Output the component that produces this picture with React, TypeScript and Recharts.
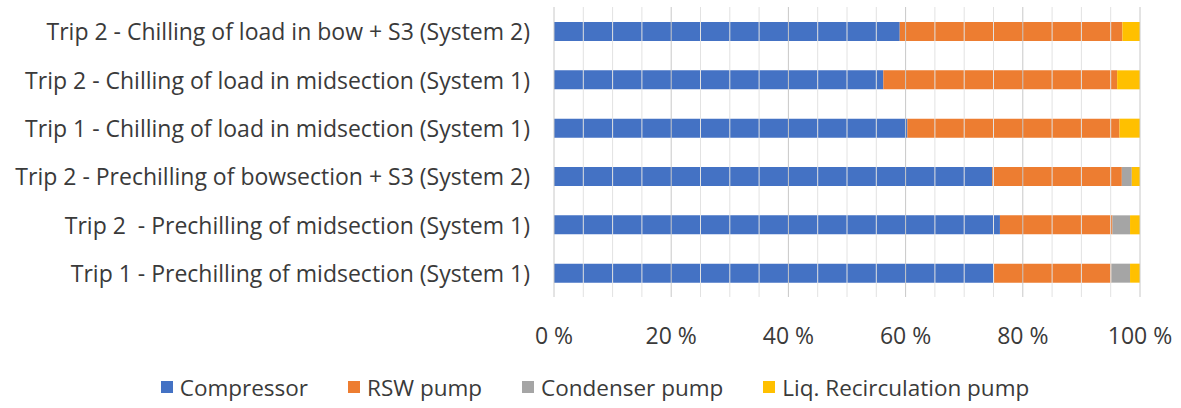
import React from 'react';
import { BarChart, Bar, XAxis, YAxis, Legend, ReferenceLine } from 'recharts';

const categories = [
  'Trip 2 - Chilling of load in bow + S3 (System 2)',
  'Trip 2 - Chilling of load in midsection (System 1)',
  'Trip 1 - Chilling of load in midsection (System 1)',
  'Trip 2 - Prechilling of bowsection + S3 (System 2)',
  'Trip 2  - Prechilling of midsection (System 1)',
  'Trip 1 - Prechilling of midsection (System 1)',
];
const compressor = [59.0, 56.2, 60.3, 74.8, 76.1, 75.1];
const rswPump = [38.0, 39.9, 36.2, 22.1, 19.2, 20.0];
const condenserPump = [0, 0, 0, 1.7, 3.0, 3.2];
const liqRecirculationPump = [3.0, 3.9, 3.5, 1.4, 1.7, 1.7];
const xTicks = [0, 20, 40, 60, 80, 100];
const minorGrid = [5, 10, 15, 25, 30, 35, 45, 50, 55, 65, 70, 75, 85, 90, 95];
const seriesNames = ['Compressor', 'RSW pump', 'Condenser pump', 'Liq. Recirculation pump'];

const data = categories.map((name, i) => ({
  name,
  compressor: compressor[i],
  rsw: rswPump[i],
  condenser: condenserPump[i],
  liq: liqRecirculationPump[i],
}));

const FONT = '"Open Sans", sans-serif';
const TEXT = '#3a3a3a';

const CategoryTick = (props: any) => {
  const { x, y, payload } = props;
  return (
    <text
      x={x}
      y={y}
      textAnchor="end"
      dominantBaseline="central"
      fill={TEXT}
      fontSize={23}
      fontFamily={FONT}
      style={{ whiteSpace: 'pre' }}
    >
      {payload.value}
    </text>
  );
};

const LegendContent = (props: any) => {
  const items = [...(props.payload || [])].sort(
    (a: any, b: any) => seriesNames.indexOf(a.value) - seriesNames.indexOf(b.value)
  );
  return (
    <div
      style={{
        display: 'flex',
        justifyContent: 'center',
        alignItems: 'center',
        gap: 40,
        height: 30,
        fontFamily: FONT,
        fontSize: 22.5,
        color: TEXT,
        paddingLeft: 50,
      }}
    >
      {items.map((it: any) => (
        <div key={it.value} style={{ display: 'flex', alignItems: 'center' }}>
          <span style={{ display: 'inline-block', width: 12, height: 12, background: it.color, marginRight: 7 }} />
          <span>{it.value}</span>
        </div>
      ))}
    </div>
  );
};

export default function App() {
  return (
    <div style={{ position: 'absolute', left: 0, top: 0 }}>
      <BarChart
        width={1181}
        height={408}
        data={data}
        layout="vertical"
        margin={{ top: 7, right: 41, bottom: 6, left: 0 }}
        barSize={19}
      >
        {minorGrid.map((v) => (
          <ReferenceLine key={'m' + v} x={v} stroke="#e2e2e2" strokeWidth={1} />
        ))}
        {xTicks.map((v) => (
          <ReferenceLine key={'M' + v} x={v} stroke="#c8c8c8" strokeWidth={1} />
        ))}
        <XAxis
          type="number"
          domain={[0, 100]}
          ticks={xTicks}
          tickFormatter={(v: number) => `${v} %`}
          axisLine={false}
          tickLine={false}
          tickSize={0}
          tickMargin={31}
          height={75}
          tick={{ fill: TEXT, fontSize: 23, fontFamily: FONT }}
        />
        <YAxis
          type="category"
          dataKey="name"
          width={554}
          axisLine={false}
          tickLine={false}
          tickSize={0}
          tickMargin={24}
          tick={<CategoryTick />}
        />
        <Legend verticalAlign="bottom" align="center" height={30} content={<LegendContent />} />
        <Bar dataKey="compressor" name="Compressor" stackId="a" fill="#4472C4" isAnimationActive={false} />
        <Bar dataKey="rsw" name="RSW pump" stackId="a" fill="#ED7D31" isAnimationActive={false} />
        <Bar dataKey="condenser" name="Condenser pump" stackId="a" fill="#A5A5A5" isAnimationActive={false} />
        <Bar dataKey="liq" name="Liq. Recirculation pump" stackId="a" fill="#FFC000" isAnimationActive={false} />
      </BarChart>
    </div>
  );
}
